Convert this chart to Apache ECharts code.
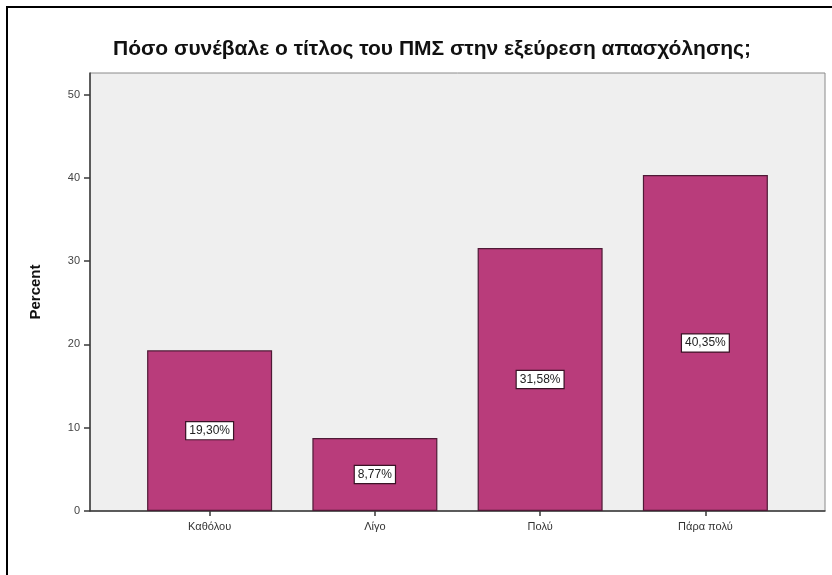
<!DOCTYPE html>
<html>
<head>
<meta charset="utf-8">
<script src="https://cdn.jsdelivr.net/npm/echarts@6/dist/echarts.min.js"></script>
<style>
html,body{margin:0;padding:0;background:#fff;}
#c{width:832px;height:575px;}
</style>
</head>
<body>
<div id="c"></div>
<script>
const titleText = 'Πόσο συνέβαλε ο τίτλος του ΠΜΣ στην εξεύρεση απασχόλησης;';
const categories = ['Καθόλου', 'Λίγο', 'Πολύ', 'Πάρα πολύ'];
const percentValues = [19.30, 8.77, 31.58, 40.35];
const yTickValues = [0, 10, 20, 30, 40, 50];
const yAxisName = 'Percent';

const chart = echarts.init(document.getElementById('c'), null, {renderer: 'canvas'});
const font = 'Arial, "Liberation Sans", sans-serif';
const yMax = 52.6;

chart.setOption({
  animation: false,
  backgroundColor: '#ffffff',
  title: {
    text: titleText,
    left: 108,
    top: 34,
    textStyle: {fontFamily: font, fontSize: 21, fontWeight: 'bold', color: '#111'}
  },
  graphic: [{
    type: 'rect',
    shape: {x: 7, y: 7, width: 900, height: 700},
    style: {fill: 'none', stroke: '#000', lineWidth: 2},
    silent: true
  }],
  grid: [
    {left: 90, right: 7, top: 73, bottom: 64, show: true,
     backgroundColor: '#efefef', borderColor: '#8a8a8a', borderWidth: 1},
    {left: 127, right: 44, top: 73, bottom: 64}
  ],
  xAxis: [
    {gridIndex: 0, type: 'value', min: 0, max: 1,
     axisLine: {show: true, onZero: false, lineStyle: {color: '#3a3a3a', width: 1.5}},
     axisTick: {show: false}, axisLabel: {show: false}, splitLine: {show: false}},
    {gridIndex: 1, type: 'category', data: categories, boundaryGap: true,
     axisLine: {show: false},
     axisTick: {show: true, alignWithLabel: true, length: 5, lineStyle: {color: '#3a3a3a', width: 1.5}},
     axisLabel: {fontFamily: font, fontSize: 11, color: '#333', margin: 10},
     splitLine: {show: false}}
  ],
  yAxis: [
    {gridIndex: 0, type: 'value', min: 0, max: yMax, interval: 10,
     name: yAxisName, nameLocation: 'middle', nameRotate: 90, nameGap: 47,
     nameTextStyle: {fontFamily: font, fontSize: 15, fontWeight: 'bold', color: '#111'},
     axisLine: {show: true, lineStyle: {color: '#3a3a3a', width: 1.5}},
     axisTick: {show: true, length: 6, customValues: yTickValues, lineStyle: {color: '#3a3a3a', width: 1.5}},
     axisLabel: {fontFamily: font, fontSize: 11, color: '#444', margin: 10, customValues: yTickValues},
     splitLine: {show: false}},
    {gridIndex: 1, type: 'value', min: 0, max: yMax, interval: 10, show: false,
     splitLine: {show: false}}
  ],
  series: [{
    type: 'bar',
    xAxisIndex: 1,
    yAxisIndex: 1,
    data: percentValues,
    barWidth: 125,
    itemStyle: {color: '#b93c7b', borderColor: '#4f1a36', borderWidth: 1.2},
    label: {
      show: true,
      position: 'inside',
      formatter: p => p.value.toFixed(2).replace('.', ',') + '%',
      fontFamily: font,
      fontSize: 12,
      color: '#222',
      backgroundColor: '#ffffff',
      borderColor: '#3a1326',
      borderWidth: 1.2,
      padding: [3, 3, 2, 3]
    }
  }]
});
</script>
</body>
</html>
